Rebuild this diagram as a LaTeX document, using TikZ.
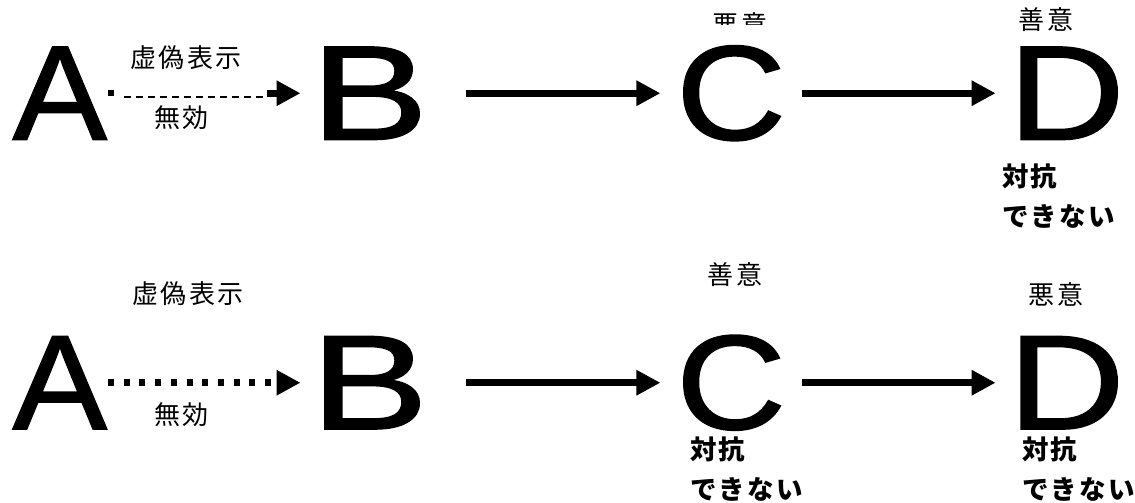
\documentclass[tikz,border=0pt]{standalone}
\usepackage{fontspec}
\usetikzlibrary{arrows.meta}
\newfontfamily\latf{Liberation Sans}[FakeBold=1.2]
\newfontfamily\jpf{Noto Sans CJK JP}[LetterSpace=10]
\newfontfamily\jpbf{Noto Sans CJK JP}[LetterSpace=8]
\newcommand{\bigfont}{\latf\fontsize{134.5}{140}\selectfont}
\newcommand{\lblfont}{\jpf\fontsize{26}{28}\selectfont}
\newcommand{\boldfont}{\jpbf\bfseries\fontsize{26.5}{40}\selectfont}
\tikzset{
  letter/.style={inner sep=0pt, anchor=base west, font=\bigfont},
  lbl/.style={inner sep=0pt, font=\lblfont},
  boldlbl/.style={inner sep=0pt, anchor=north west, align=left, font=\boldfont},
  solidarr/.style={line width=7pt, -{Triangle[length=24pt,width=24pt]}},
  dotarr/.style={line width=7pt, dash pattern=on 6pt off 9.7pt, -{Triangle[length=24pt,width=24pt]}},
  thindash/.style={line width=2pt, dash pattern=on 7pt off 5pt},
}
\begin{document}
\begin{tikzpicture}[x=1pt,y=-1pt]
\useasboundingbox (0,0) rectangle (1135,503);
% ---- row 1 ----
\node[letter] (A) at (12.5,139.5) {\scalebox{1.05}[1]{A}};
\node[letter] (B) at (310.5,139.5) {\scalebox{1.31}[1]{B}};
\node[letter] (C) at (676,139.5) {\scalebox{1.13}[1]{C}};
\node[letter] (D) at (1008,139.5) {\scalebox{1.20}[1]{D}};
\node[fill, minimum size=6pt, inner sep=0pt, anchor=west] (sq) at ([xshift=1pt]A.east) {};
\draw[thindash] ([xshift=17pt,yshift=-4pt]A.east) -- ([xshift=157pt,yshift=-4pt]A.east);
\draw[solidarr, shorten >=10pt] ([xshift=160pt]A.east) -- (A.east -| B.west);
\draw[solidarr, shorten <=38pt, shorten >=15.6pt] (B.east) -- (B.east -| C.west);
\draw[solidarr, shorten <=16pt, shorten >=12.4pt] (C.east |- B.east) -- (B.east -| D.west);
\node[lbl] (t1) at (186,57.5) {虚偽表示};
\node[lbl] (t2) at (181.5,117.5) {無効};
\begin{scope}
  \clip (0,0) rectangle (1135,25);
  \node[lbl] (t3) at (740,25) {悪意};
\end{scope}
\node[lbl] (t4) at (1046,20) {善意};
\node[boldlbl] (t5) at (1002,164) {対抗\\できない};
% ---- row 2 ----
\node[letter] (A2) at (12.5,429) {\scalebox{1.05}[1]{A}};
\node[letter] (B2) at (310.5,429) {\scalebox{1.31}[1]{B}};
\node[letter] (C2) at (676,429) {\scalebox{1.13}[1]{C}};
\node[letter] (D2) at (1008,429) {\scalebox{1.20}[1]{D}};
\draw[dotarr, shorten <=1pt, shorten >=10pt] (A2.east) -- (A2.east -| B2.west);
\draw[solidarr, shorten <=38pt, shorten >=15.6pt] (B2.east) -- (B2.east -| C2.west);
\draw[solidarr, shorten <=16pt, shorten >=12.4pt] (C2.east |- B2.east) -- (B2.east -| D2.west);
\node[lbl] (u1) at (188,294) {虚偽表示};
\node[lbl] (u2) at (181.5,415) {無効};
\node[lbl] (u3) at (735,275) {善意};
\node[lbl] (u4) at (1056,295) {悪意};
\node[boldlbl] (u5) at (690,437) {対抗\\できない};
\node[boldlbl] (u6) at (1022,437) {対抗\\できない};
\end{tikzpicture}
\end{document}
